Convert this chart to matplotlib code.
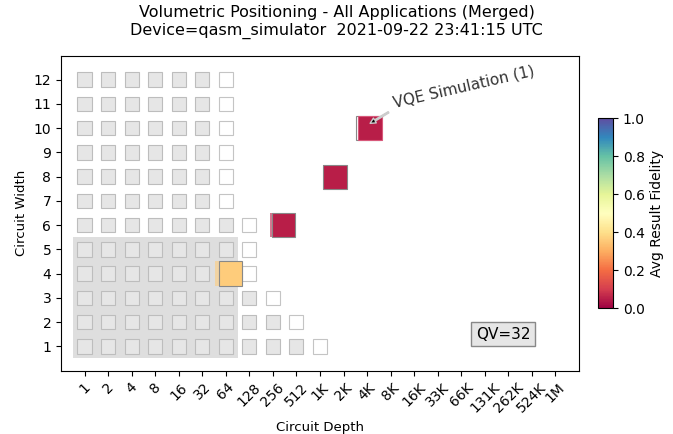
import matplotlib
matplotlib.use("Agg")
import matplotlib.pyplot as plt
from matplotlib.patches import Rectangle
import numpy as np

# depth tick labels (powers of 2)
depth_labels = ["1", "2", "4", "8", "16", "32", "64", "128", "256", "512",
                "1K", "2K", "4K", "8K", "16K", "33K", "66K", "131K", "262K", "524K", "1M"]
widths = list(range(1, 13))

# number of filled (gray) depth cells per width, next one is empty
gray_counts = [10, 9, 8, 7, 7, 7, 6, 6, 6, 6, 6, 6]

QV = 32

# VQE data (merged)
vqe_width = [4, 6, 8, 10]
vqe_depth = [74, 348, 1585, 4480]
vqe_fidelity = [0.36, 0.05, 0.05, 0.05]
vqe_depth_alt = [66, 333, 1585, 4480]
vqe_open_width = [10]
vqe_open_depth = [4180]

cmap = plt.get_cmap("Spectral")

fig = plt.figure(figsize=(6.73, 4.34), dpi=100)
ax = fig.add_axes([0.0906, 0.1463, 0.7697, 0.7258])

fig.suptitle("Volumetric Positioning - All Applications (Merged)\nDevice=qasm_simulator  2021-09-22 23:41:15 UTC",
             fontsize=11.5, y=0.988)

# QV background
qv_w = np.log2(QV)
ax.add_patch(Rectangle((-0.5, 0.5), 7, qv_w, facecolor="#dedede", edgecolor="none", zorder=0))

# app background cells
bs = 0.6
for w, n in zip(widths, gray_counts):
    for d in range(n):
        ax.add_patch(Rectangle((d - bs/2, w - bs/2), bs, bs, facecolor="#e6e6e6",
                               edgecolor="#bdbdbd", lw=0.8, zorder=1))
    ax.add_patch(Rectangle((n - bs/2, w - bs/2), bs, bs, facecolor="white",
                           edgecolor="#c4c4c4", lw=0.8, zorder=1))

# open box
for w, d in zip(vqe_open_width, vqe_open_depth):
    x = np.log2(d)
    ax.add_patch(Rectangle((x - 0.5, w - 0.5), 1, 1, facecolor="white",
                           edgecolor="#888888", lw=0.8, zorder=2))

# faded boxes
for w, d, f in zip(vqe_width, vqe_depth_alt, vqe_fidelity):
    x = np.log2(d)
    ax.add_patch(Rectangle((x - 0.5, w - 0.5), 1, 1, facecolor=cmap(f), alpha=0.6,
                           edgecolor="none", zorder=3))

# data boxes
for w, d, f in zip(vqe_width, vqe_depth, vqe_fidelity):
    x = np.log2(d)
    ec = "#888888"
    if w == 10:
        ec = "#d8587a"
    ax.add_patch(Rectangle((x - 0.5, w - 0.5), 1, 1, facecolor=cmap(f),
                           edgecolor=ec, lw=0.8, zorder=4))

# label for the app
lx = np.log2(vqe_depth[-1])
ly = vqe_width[-1]
ax.annotate("VQE Simulation (1)", xy=(lx, ly + 0.2), xytext=(lx + 0.9, ly + 0.85),
            rotation=13, fontsize=11, color="#333333",
            arrowprops=dict(facecolor="black", edgecolor=(0.8, 0.8, 0.8),
                            width=1, headwidth=4, headlength=4, shrink=0.0),
            zorder=5)

ax.text(17.77, 1.49, "QV=" + str(QV), fontsize=11, ha="center", va="center",
        bbox=dict(facecolor="#e6e6e6", edgecolor="#888888", boxstyle="square,pad=0.3"))

ax.set_xlim(-1, 21)
ax.set_ylim(0, 13)
ax.set_xticks(range(len(depth_labels)))
ax.set_xticklabels(depth_labels, rotation=45, fontsize=10)
ax.set_yticks(widths)
ax.set_yticklabels([str(w) for w in widths], fontsize=10)
ax.set_xlabel("Circuit Depth", fontsize=9.5)
ax.set_ylabel("Circuit Width", fontsize=9.5)

cax = fig.add_axes([0.8886, 0.2896, 0.0223, 0.4378])
sm = plt.cm.ScalarMappable(cmap=cmap, norm=plt.Normalize(0, 1))
cb = fig.colorbar(sm, cax=cax)
cb.set_ticks([0.0, 0.2, 0.4, 0.6, 0.8, 1.0])
cb.ax.tick_params(labelsize=10)
cb.set_label("Avg Result Fidelity", fontsize=10)

plt.savefig("out.png", dpi=100)
